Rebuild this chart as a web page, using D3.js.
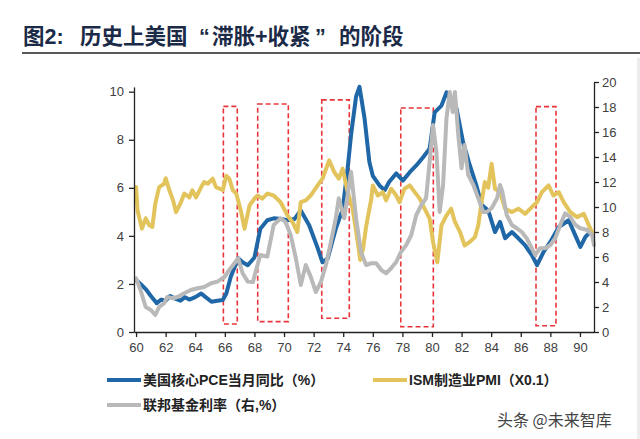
<!DOCTYPE html>
<html>
<head>
<meta charset="utf-8">
<script src="https://cdn.jsdelivr.net/npm/d3@7"></script>
<style>
  html, body { margin: 0; padding: 0; background: #fff; }
  svg { display: block; }
  .axis text { font-family: "Liberation Sans", Arial, sans-serif; font-size: 13px; fill: #404040; }
  .axis path, .axis line { stroke: #222; stroke-width: 1.3; }
</style>
</head>
<body>
<div id="chart"></div>
<script>
// 核心PCE同比 (%, 左轴)  [年份(两位), 值]
const corePce = [
  [60.0,2.16],[60.3,2.0],[60.7,1.75],[61.0,1.5],[61.4,1.2],[61.7,1.35],[62.0,1.3],[62.3,1.5],[62.6,1.4],
  [63.0,1.3],[63.3,1.45],[63.6,1.35],[64.0,1.45],[64.4,1.6],[64.7,1.45],[65.1,1.26],[65.5,1.3],[65.86,1.33],
  [66.1,1.6],[66.4,2.3],[66.9,3.07],[67.2,2.9],[67.55,2.78],[68.0,3.1],[68.4,4.3],[68.87,4.65],[69.3,4.73],
  [69.8,4.7],[70.23,4.65],[70.7,4.7],[71.13,5.06],[71.7,4.44],[72.27,3.5],[72.6,2.9],[72.95,3.06],[73.5,4.3],
  [73.96,5.1],[74.3,6.8],[74.53,8.2],[74.87,9.8],[75.1,10.2],[75.44,8.9],[75.77,7.07],[76.0,6.5],[76.45,6.1],
  [76.8,5.9],[77.1,6.24],[77.58,6.6],[78.03,6.3],[78.5,6.65],[78.94,6.93],[79.4,7.27],[79.84,7.63],[80.18,9.14],
  [80.64,9.42],[80.98,9.97],[81.3,9.6],[81.66,9.3],[82.1,7.9],[82.56,6.93],[83.0,6.1],[83.35,5.3],[83.8,5.06],
  [84.26,4.16],[84.6,4.58],[84.94,3.9],[85.4,4.16],[85.84,3.9],[86.3,3.6],[86.75,3.2],[87.1,2.78],[87.54,3.33],
  [88.0,3.75],[88.57,4.37],[89.24,4.65],[89.7,4.0],[90.03,3.54],[90.37,3.96],[90.7,4.16]
];

// ISM制造业PMI x0.1 (左轴)
const pmi = [
  [60.0,6.03],[60.1,5.06],[60.4,4.3],[60.65,4.73],[60.9,4.44],[61.1,4.37],[61.3,5.35],[61.56,6.03],[61.9,6.17],
  [62.0,6.4],[62.25,5.9],[62.5,5.48],[62.7,4.99],[63.0,5.35],[63.26,5.76],[63.6,5.6],[63.8,5.9],[64.05,5.6],
  [64.4,6.03],[64.6,6.24],[64.84,6.17],[65.18,6.38],[65.4,6.03],[65.63,5.97],[65.86,5.9],[66.1,6.5],[66.3,6.38],
  [66.54,5.9],[66.77,5.76],[67.1,4.99],[67.33,4.3],[67.67,5.27],[68.0,5.55],[68.2,5.68],[68.53,5.55],[68.87,5.76],
  [69.3,5.68],[69.77,5.4],[70.23,4.85],[70.57,4.58],[70.9,4.16],[71.13,5.4],[71.47,5.48],[71.8,5.68],[72.27,6.1],
  [72.6,6.38],[73.05,7.14],[73.4,6.65],[73.7,6.38],[73.96,6.8],[74.3,5.82],[74.64,5.13],[74.98,3.75],[75.15,3.0],
  [75.35,3.5],[75.55,4.4],[75.9,5.55],[76.0,6.1],[76.34,5.68],[76.68,5.82],[76.9,5.48],[77.24,5.96],[77.58,5.68],
  [77.8,5.4],[78.14,5.96],[78.5,6.1],[78.83,5.82],[79.17,5.55],[79.5,5.13],[79.84,4.72],[80.07,3.75],[80.36,2.9],
  [80.64,4.44],[80.98,4.85],[81.3,5.13],[81.55,4.58],[81.9,4.16],[82.2,3.6],[82.56,3.75],[82.9,3.95],[83.13,4.44],
  [83.35,5.4],[83.57,6.24],[83.8,6.0],[84.03,7.0],[84.26,5.96],[84.6,5.82],[84.94,5.13],[85.4,4.99],[85.84,5.13],
  [86.3,4.92],[86.75,5.2],[87.1,5.4],[87.43,5.82],[87.88,6.1],[88.2,5.68],[88.57,5.82],[88.9,5.4],[89.35,4.99],
  [89.8,4.78],[90.26,4.92],[90.6,4.44],[90.82,4.16]
];

// 联邦基金利率 (%, 右轴)
const fedFunds = [
  [60.0,4.3],[60.3,3.36],[60.65,2.0],[61.0,1.76],[61.3,1.36],[61.56,2.0],[61.9,2.3],[62.1,2.8],[62.5,2.7],
  [62.8,2.8],[63.26,3.1],[63.7,3.36],[64.16,3.5],[64.6,3.6],[65.07,3.9],[65.5,4.03],[65.97,4.4],[66.3,4.96],
  [66.65,5.5],[66.9,5.9],[67.2,4.7],[67.55,4.03],[67.9,4.0],[68.08,4.83],[68.4,6.16],[68.87,6.03],[69.3,8.56],
  [69.77,9.1],[70.1,8.8],[70.45,7.76],[70.8,5.9],[71.13,3.76],[71.47,5.36],[71.8,4.43],[72.15,3.2],[72.5,4.03],
  [72.83,5.36],[73.17,7.2],[73.5,9.1],[73.7,10.7],[74.07,9.1],[74.3,11.0],[74.53,12.8],[74.87,9.1],[75.2,6.4],
  [75.55,5.36],[75.9,5.5],[76.23,5.5],[76.57,4.96],[76.9,4.7],[77.24,5.1],[77.58,5.6],[77.9,6.4],[78.26,6.96],
  [78.6,7.76],[78.94,9.36],[79.28,10.16],[79.6,10.7],[79.84,13.6],[80.07,16.56],[80.3,14.4],[80.52,9.6],
  [80.75,11.76],[80.98,17.1],[81.2,19.2],[81.4,17.6],[81.55,19.2],[81.78,15.76],[82.0,13.1],[82.2,14.96],
  [82.45,12.56],[82.8,11.76],[83.13,10.7],[83.46,9.6],[83.7,9.6],[84.03,9.9],[84.4,10.7],[84.6,11.76],[84.76,11.2],
  [85.05,9.36],[85.4,8.56],[85.73,8.3],[86.07,8.0],[86.4,7.5],[86.75,6.7],[86.97,6.16],[87.3,6.7],[87.65,6.7],
  [88.0,6.96],[88.33,7.5],[88.67,8.56],[89.0,9.5],[89.35,9.2],[89.7,8.56],[90.03,8.3],[90.5,8.16],[90.82,7.76],
  [90.95,6.96]
];

// 滞胀+收紧阶段: [起, 止, 上沿(左轴值), 下沿(左轴值)]
const phases = [
  [65.9, 66.84, 9.39, 0.33],
  [68.22, 70.29, 9.49, 0.43],
  [72.55, 74.41, 9.66, 0.57],
  [77.89, 80.09, 9.32, 0.22],
  [87.03, 88.38, 9.38, 0.26]
];

const xTicks = d3.range(60, 91, 2);
const leftTicks = [0, 2, 4, 6, 8, 10];
const rightTicks = d3.range(0, 21, 2);

const width = 640, height = 439;

const svg = d3.select("#chart").append("svg")
  .attr("width", width)
  .attr("height", height);

// 标题 (分段摆放以保留原图中的间距)
const title = svg.append("text")
  .attr("y", 44)
  .attr("font-family", "'Liberation Sans', 'Noto Sans CJK SC', sans-serif")
  .attr("font-weight", "bold")
  .attr("font-size", 21.5)
  .attr("fill", "#1b2a47");

[["图2:", 23], ["历史上美国", 80], ["“", 199], ["滞胀+收紧", 212], ["”", 315], ["的阶段", 339]]
  .forEach(p => title.append("tspan").attr("x", p[1]).text(p[0]));

svg.append("line")
  .attr("x1", 22).attr("x2", 640)
  .attr("y1", 53).attr("y2", 53)
  .attr("stroke", "#222")
  .attr("stroke-width", 1.5);

const x = d3.scaleLinear().domain([59.86, 90.95]).range([134, 594]);
const yL = d3.scaleLinear().domain([0, 10.2]).range([332, 86.9]);
const yR = d3.scaleLinear().domain([0, 20]).range([332, 82]);

// 阶段框
svg.selectAll(".phase")
  .data(phases)
  .enter()
  .append("rect")
  .attr("x", d => x(d[0]))
  .attr("y", d => yL(d[2]))
  .attr("width", d => x(d[1]) - x(d[0]))
  .attr("height", d => yL(d[3]) - yL(d[2]))
  .attr("fill", "none")
  .attr("stroke", "#e8353a")
  .attr("stroke-width", 1.6)
  .attr("stroke-dasharray", "5,3");

const lineL = d3.line().x(d => x(d[0])).y(d => yL(d[1]));
const lineR = d3.line().x(d => x(d[0])).y(d => yR(d[1]));

const series = [
  { data: corePce, line: lineL, color: "#1f67a6" },
  { data: pmi, line: lineL, color: "#e3c45c" },
  { data: fedFunds, line: lineR, color: "#b9b9b9" }
];

series.forEach(s => {
  svg.append("path")
    .datum(s.data)
    .attr("d", s.line)
    .attr("fill", "none")
    .attr("stroke", s.color)
    .attr("stroke-width", 4)
    .attr("stroke-linejoin", "round")
    .attr("stroke-linecap", "round");
});

// 坐标轴
svg.append("g")
  .attr("class", "axis")
  .attr("transform", "translate(0,332)")
  .call(d3.axisBottom(x).tickValues(xTicks).tickSize(5).tickSizeOuter(0).tickPadding(6));

svg.append("g")
  .attr("class", "axis")
  .attr("transform", "translate(134,0)")
  .call(d3.axisLeft(yL).tickValues(leftTicks).tickSize(5).tickSizeOuter(0).tickPadding(5));

svg.append("g")
  .attr("class", "axis")
  .attr("transform", "translate(594,0)")
  .call(d3.axisRight(yR).tickValues(rightTicks).tickSize(5).tickSizeOuter(0).tickPadding(3));

// 图例
const legend = [
  { label: "美国核心PCE当月同比（%）", color: "#1f67a6", x: 107, y: 380 },
  { label: "ISM制造业PMI（X0.1）", color: "#e3c45c", x: 373, y: 380 },
  { label: "联邦基金利率（右,%）", color: "#b9b9b9", x: 107, y: 405 }
];

const lg = svg.selectAll(".legend")
  .data(legend)
  .enter()
  .append("g")
  .attr("transform", d => "translate(" + d.x + "," + d.y + ")");

lg.append("line")
  .attr("x1", 0).attr("x2", 34)
  .attr("stroke", d => d.color)
  .attr("stroke-width", 4);

lg.append("text")
  .attr("x", 36)
  .attr("y", 5)
  .attr("font-family", "'Liberation Sans', 'Noto Sans CJK SC', sans-serif")
  .attr("font-weight", "bold")
  .attr("font-size", 14)
  .attr("fill", "#222")
  .text(d => d.label);

svg.append("text")
  .attr("x", 497)
  .attr("y", 426)
  .attr("font-family", "'Noto Sans CJK SC', sans-serif")
  .attr("font-size", 16)
  .attr("fill", "#444")
  .text("头条 @未来智库");

svg.append("rect")
  .attr("x", 637).attr("y", 58)
  .attr("width", 3).attr("height", 381)
  .attr("fill", "#ececec");
</script>
</body>
</html>
